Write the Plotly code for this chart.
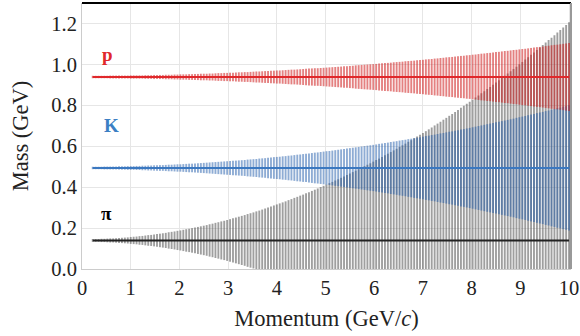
import plotly.graph_objects as go

# Momentum grid (GeV/c)
momentum = [0.22, 0.28, 0.34, 0.4, 0.46, 0.52, 0.58, 0.64, 0.7, 0.76, 0.82, 0.88, 0.94, 1.0, 1.06, 1.12, 1.18, 1.24, 1.3, 1.36,
            1.42, 1.48, 1.54, 1.6, 1.66, 1.72, 1.78, 1.84, 1.9, 1.96, 2.02, 2.08, 2.14, 2.2, 2.26, 2.32, 2.38, 2.44, 2.5, 2.56,
            2.62, 2.68, 2.74, 2.8, 2.86, 2.92, 2.98, 3.04, 3.1, 3.16, 3.22, 3.28, 3.34, 3.4, 3.46, 3.52, 3.58, 3.64, 3.7, 3.76,
            3.82, 3.88, 3.94, 4.0, 4.06, 4.12, 4.18, 4.24, 4.3, 4.36, 4.42, 4.48, 4.54, 4.6, 4.66, 4.72, 4.78, 4.84, 4.9, 4.96,
            5.02, 5.08, 5.14, 5.2, 5.26, 5.32, 5.38, 5.44, 5.5, 5.56, 5.62, 5.68, 5.74, 5.8, 5.86, 5.92, 5.98, 6.04, 6.1, 6.16,
            6.22, 6.28, 6.34, 6.4, 6.46, 6.52, 6.58, 6.64, 6.7, 6.76, 6.82, 6.88, 6.94, 7.0, 7.06, 7.12, 7.18, 7.24, 7.3, 7.36,
            7.42, 7.48, 7.54, 7.6, 7.66, 7.72, 7.78, 7.84, 7.9, 7.96, 8.02, 8.08, 8.14, 8.2, 8.26, 8.32, 8.38, 8.44, 8.5, 8.56,
            8.62, 8.68, 8.74, 8.8, 8.86, 8.92, 8.98, 9.04, 9.1, 9.16, 9.22, 9.28, 9.34, 9.4, 9.46, 9.52, 9.58, 9.64, 9.7, 9.76,
            9.82, 9.88, 9.94, 10.0]

# Mass resolution (half-width of each bar, GeV)
err_pion = [0.007, 0.007, 0.007, 0.008, 0.008, 0.009, 0.010, 0.010, 0.011, 0.012, 0.013, 0.014, 0.015, 0.017, 0.018, 0.019, 0.021, 0.022, 0.024, 0.026,
            0.027, 0.029, 0.031, 0.033, 0.035, 0.037, 0.040, 0.042, 0.044, 0.047, 0.049, 0.052, 0.055, 0.057, 0.060, 0.063, 0.066, 0.069, 0.072, 0.075,
            0.079, 0.082, 0.086, 0.089, 0.093, 0.096, 0.100, 0.104, 0.108, 0.112, 0.116, 0.120, 0.124, 0.129, 0.133, 0.137, 0.142, 0.146, 0.151, 0.156,
            0.161, 0.166, 0.171, 0.176, 0.181, 0.186, 0.191, 0.197, 0.202, 0.208, 0.213, 0.219, 0.224, 0.230, 0.236, 0.242, 0.248, 0.254, 0.261, 0.267,
            0.273, 0.280, 0.286, 0.293, 0.299, 0.306, 0.313, 0.320, 0.327, 0.334, 0.341, 0.348, 0.355, 0.363, 0.370, 0.377, 0.385, 0.393, 0.400, 0.408,
            0.416, 0.424, 0.432, 0.440, 0.448, 0.457, 0.465, 0.473, 0.482, 0.490, 0.499, 0.508, 0.517, 0.525, 0.534, 0.543, 0.552, 0.562, 0.571, 0.580,
            0.590, 0.599, 0.609, 0.618, 0.628, 0.638, 0.648, 0.658, 0.668, 0.678, 0.688, 0.698, 0.708, 0.719, 0.729, 0.740, 0.750, 0.761, 0.772, 0.783,
            0.794, 0.805, 0.816, 0.827, 0.838, 0.849, 0.861, 0.872, 0.884, 0.895, 0.907, 0.919, 0.931, 0.943, 0.955, 0.967, 0.979, 0.991, 1.003, 1.016,
            1.028, 1.041, 1.053, 1.066]
err_kaon = [0.006, 0.006, 0.006, 0.006, 0.007, 0.007, 0.007, 0.007, 0.007, 0.008, 0.008, 0.008, 0.009, 0.009, 0.009, 0.010, 0.010, 0.011, 0.011, 0.012,
            0.012, 0.013, 0.013, 0.014, 0.014, 0.015, 0.016, 0.016, 0.017, 0.018, 0.018, 0.019, 0.020, 0.021, 0.021, 0.022, 0.023, 0.024, 0.025, 0.026,
            0.027, 0.028, 0.029, 0.030, 0.031, 0.032, 0.033, 0.034, 0.035, 0.036, 0.037, 0.038, 0.039, 0.041, 0.042, 0.043, 0.044, 0.046, 0.047, 0.048,
            0.050, 0.051, 0.053, 0.054, 0.055, 0.057, 0.058, 0.060, 0.061, 0.063, 0.065, 0.066, 0.068, 0.069, 0.071, 0.073, 0.075, 0.076, 0.078, 0.080,
            0.082, 0.083, 0.085, 0.087, 0.089, 0.091, 0.093, 0.095, 0.097, 0.099, 0.101, 0.103, 0.105, 0.107, 0.109, 0.111, 0.113, 0.115, 0.118, 0.120,
            0.122, 0.124, 0.127, 0.129, 0.131, 0.134, 0.136, 0.138, 0.141, 0.143, 0.146, 0.148, 0.150, 0.153, 0.156, 0.158, 0.161, 0.163, 0.166, 0.169,
            0.171, 0.174, 0.177, 0.179, 0.182, 0.185, 0.188, 0.190, 0.193, 0.196, 0.199, 0.202, 0.205, 0.208, 0.211, 0.214, 0.217, 0.220, 0.223, 0.226,
            0.229, 0.232, 0.235, 0.238, 0.241, 0.245, 0.248, 0.251, 0.254, 0.258, 0.261, 0.264, 0.268, 0.271, 0.274, 0.278, 0.281, 0.285, 0.288, 0.292,
            0.295, 0.299, 0.302, 0.306]
err_proton = [0.006, 0.006, 0.006, 0.006, 0.006, 0.006, 0.007, 0.007, 0.007, 0.007, 0.007, 0.007, 0.007, 0.008, 0.008, 0.008, 0.008, 0.008, 0.009, 0.009,
              0.009, 0.010, 0.010, 0.010, 0.010, 0.011, 0.011, 0.011, 0.012, 0.012, 0.013, 0.013, 0.013, 0.014, 0.014, 0.015, 0.015, 0.016, 0.016, 0.016,
              0.017, 0.017, 0.018, 0.019, 0.019, 0.020, 0.020, 0.021, 0.021, 0.022, 0.023, 0.023, 0.024, 0.024, 0.025, 0.026, 0.027, 0.027, 0.028, 0.029,
              0.029, 0.030, 0.031, 0.032, 0.032, 0.033, 0.034, 0.035, 0.036, 0.036, 0.037, 0.038, 0.039, 0.040, 0.041, 0.042, 0.043, 0.043, 0.044, 0.045,
              0.046, 0.047, 0.048, 0.049, 0.050, 0.051, 0.052, 0.053, 0.054, 0.055, 0.057, 0.058, 0.059, 0.060, 0.061, 0.062, 0.063, 0.064, 0.066, 0.067,
              0.068, 0.069, 0.070, 0.072, 0.073, 0.074, 0.075, 0.077, 0.078, 0.079, 0.080, 0.082, 0.083, 0.084, 0.086, 0.087, 0.088, 0.090, 0.091, 0.093,
              0.094, 0.096, 0.097, 0.098, 0.100, 0.101, 0.103, 0.104, 0.106, 0.107, 0.109, 0.110, 0.112, 0.114, 0.115, 0.117, 0.118, 0.120, 0.122, 0.123,
              0.125, 0.127, 0.128, 0.130, 0.132, 0.133, 0.135, 0.137, 0.138, 0.140, 0.142, 0.144, 0.146, 0.147, 0.149, 0.151, 0.153, 0.155, 0.157, 0.158,
              0.160, 0.162, 0.164, 0.166]

species = ['π', 'K', 'p']
masses = [0.1396, 0.4937, 0.9383]
errors = [err_pion, err_kaon, err_proton]
bar_colors = ['rgba(80,80,80,0.55)', 'rgba(30,90,170,0.5)', 'rgba(205,25,25,0.55)']
line_colors = ['#222222', '#3b78c0', '#e0282b']
label_colors = ['black', '#3b7fc4', '#e0282b']
label_x = [0.51, 0.61, 0.53]
label_y = [0.27, 0.70, 1.05]

fig = go.Figure()
for m, e, c in zip(masses, errors, bar_colors):
    fig.add_trace(go.Scatter(x=momentum, y=[m]*len(momentum), mode='markers',
        marker=dict(size=1, color='rgba(0,0,0,0)'),
        error_y=dict(type='data', array=e, visible=True, width=0, thickness=1.9, color=c),
        hoverinfo='skip', showlegend=False))
for m, c in zip(masses, line_colors):
    fig.add_trace(go.Scatter(x=[momentum[0], momentum[-1]], y=[m, m], mode='lines',
                             line=dict(color=c, width=2), hoverinfo='skip', showlegend=False))

font = "Liberation Serif"
tick_font = dict(family=font, size=20.5, color='#222')
title_font = dict(family=font, size=22.5, color='#222')
fig.update_layout(template='none', width=580, height=336, margin=dict(l=82, r=9, t=3, b=67),
    paper_bgcolor='white', plot_bgcolor='white', font=dict(family=font, size=20, color='#222'),
    xaxis=dict(range=[0, 10.04], tickvals=list(range(11)), ticktext=[str(v) for v in range(11)],
               showgrid=True, gridcolor='#e6e6e6', gridwidth=1, zeroline=False,
               showline=True, linecolor='#cccccc', ticks='', ticklabeloverflow='allow', tickfont=tick_font,
               title=dict(text='Momentum (GeV/<i>c</i>)', font=title_font, standoff=12)),
    yaxis=dict(range=[0, 1.3], tickvals=[0, 0.2, 0.4, 0.6, 0.8, 1.0, 1.2], tickformat='.1f', showgrid=True,
               gridcolor='#e6e6e6', gridwidth=1, zeroline=False, showline=True, linecolor='#cccccc', ticks='',
               tickfont=tick_font, title=dict(text='Mass (GeV)', font=title_font, standoff=16)),
)
fig.add_shape(type='line', xref='paper', yref='paper', x0=0, x1=1, y0=1, y1=1, line=dict(color='black', width=2))
fig.add_shape(type='line', xref='paper', yref='paper', x0=1, x1=1, y0=0, y1=1, line=dict(color='#999', width=2))
for t, x, y, c in zip(species, label_x, label_y, label_colors):
    fig.add_annotation(x=x, y=y, text='<b>' + t + '</b>', showarrow=False, font=dict(size=19, color=c, family=font))
fig.write_html("out.html")
